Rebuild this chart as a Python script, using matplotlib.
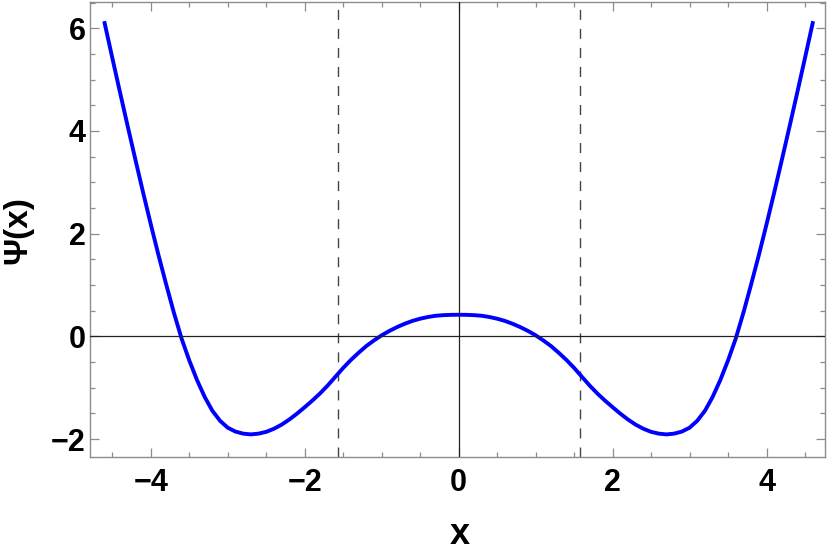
import matplotlib
matplotlib.use("Agg")
import matplotlib.pyplot as plt
from matplotlib.ticker import MultipleLocator

plt.rcParams['font.family'] = ['Liberation Sans', 'DejaVu Sans']
plt.rcParams['font.weight'] = 'bold'

# curve, every 0.1 in x
psi_x = [-4.6, -4.5, -4.4, -4.3, -4.2, -4.1, -4.0, -3.9, -3.8, -3.7,
         -3.6, -3.5, -3.4, -3.3, -3.2, -3.1, -3.0, -2.9, -2.8, -2.7,
         -2.6, -2.5, -2.4, -2.3, -2.2, -2.1, -2.0, -1.9, -1.8, -1.7,
         -1.6, -1.5, -1.4, -1.3, -1.2, -1.1, -1.0, -0.9, -0.8, -0.7,
         -0.6, -0.5, -0.4, -0.3, -0.2, -0.1, 0.0,
         0.1, 0.2, 0.3, 0.4, 0.5, 0.6, 0.7, 0.8, 0.9, 1.0,
         1.1, 1.2, 1.3, 1.4, 1.5, 1.6, 1.7, 1.8, 1.9, 2.0,
         2.1, 2.2, 2.3, 2.4, 2.5, 2.6, 2.7, 2.8, 2.9, 3.0,
         3.1, 3.2, 3.3, 3.4, 3.5, 3.6, 3.7, 3.8, 3.9, 4.0,
         4.1, 4.2, 4.3, 4.4, 4.5, 4.6]
psi_y = [6.10, 5.42, 4.75, 4.09, 3.44, 2.80, 2.18, 1.58, 1.01, 0.46,
         -0.045, -0.47, -0.85, -1.18, -1.45, -1.645, -1.78, -1.855, -1.895, -1.91,
         -1.895, -1.86, -1.80, -1.72, -1.62, -1.505, -1.38, -1.25, -1.11, -0.955,
         -0.785, -0.615, -0.46, -0.32, -0.19, -0.08, 0.02, 0.105, 0.18, 0.245,
         0.30, 0.343, 0.376, 0.40, 0.412, 0.418, 0.42,
         0.418, 0.412, 0.40, 0.376, 0.343, 0.30, 0.245, 0.18, 0.105, 0.02,
         -0.08, -0.19, -0.32, -0.46, -0.615, -0.785, -0.955, -1.11, -1.25, -1.38,
         -1.505, -1.62, -1.72, -1.80, -1.86, -1.895, -1.91, -1.895, -1.855, -1.78,
         -1.645, -1.45, -1.18, -0.85, -0.47, -0.045, 0.46, 1.01, 1.58, 2.18,
         2.80, 3.44, 4.09, 4.75, 5.42, 6.10]

# dashed markers (about +-pi/2)
dash_x = [-1.5708, 1.5708]

fig = plt.figure(figsize=(8.3, 5.53), dpi=100)
ax = fig.add_axes([90/830, 96/553, 735/830, 455/553])

ax.plot(psi_x, psi_y, color='#0000ff', lw=2.8, zorder=2,
        solid_joinstyle='round')
for xv in dash_x:
    ax.axvline(xv, color='#444444', lw=1.0, dashes=(7.2, 6.5), zorder=1)
ax.axhline(0, color='#222222', lw=0.9, zorder=3)
ax.axvline(0, color='#222222', lw=0.9, zorder=3)

ax.set_xlim(-4.79, 4.76)
ax.set_ylim(-2.35, 6.51)

ax.xaxis.set_major_locator(MultipleLocator(2))
ax.xaxis.set_minor_locator(MultipleLocator(0.5))
ax.yaxis.set_major_locator(MultipleLocator(2))
ax.yaxis.set_minor_locator(MultipleLocator(0.5))

frame_col = '#8c8c8c'
for sp in ax.spines.values():
    sp.set_color(frame_col)
    sp.set_linewidth(1.0)
ax.tick_params(which='both', direction='in', top=True, right=True,
               color=frame_col, width=0.9, labelsize=22)
ax.tick_params(which='major', length=6.5)
ax.tick_params(which='minor', length=3.8)
ax.tick_params(axis='x', which='major', pad=8)
ax.tick_params(axis='y', which='major', pad=3)
for lab in ax.get_xticklabels() + ax.get_yticklabels():
    lab.set_fontweight('bold')

# axis titles placed in figure pixels
fig.text(460/830, 1 - 534/553, 'x', fontsize=26, fontweight='bold',
         ha='center', va='center')
fig.text(18/830, 1 - 230/553, 'Ψ(x)', fontsize=24, fontweight='bold',
         rotation=90, ha='center', va='center')

fig.savefig('out.png', dpi=100)
